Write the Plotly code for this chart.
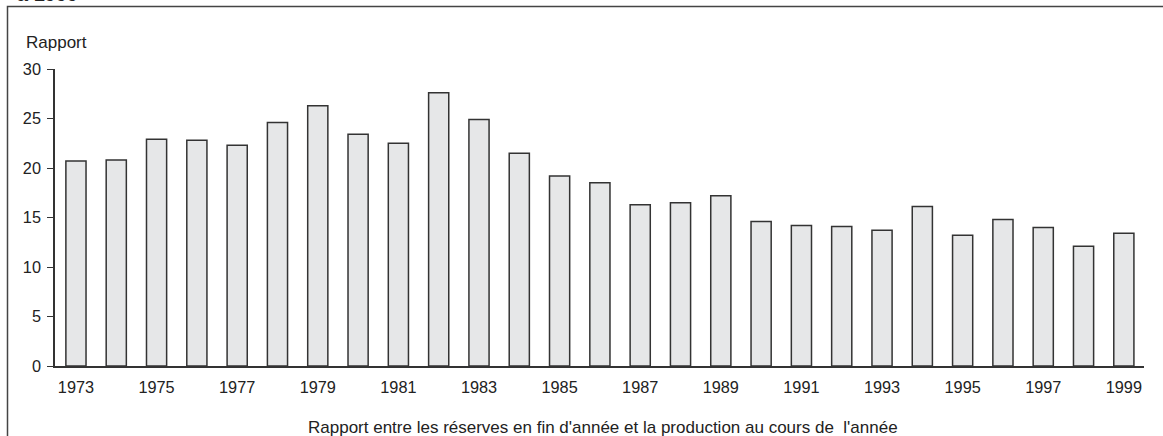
import plotly.graph_objects as go

years = list(range(1973, 2000))
ratio = [20.7, 20.8, 22.9, 22.8, 22.3, 24.6, 26.3, 23.4, 22.5, 27.6,
         24.9, 21.5, 19.2, 18.5, 16.3, 16.5, 17.2, 14.6, 14.2, 14.1,
         13.7, 16.1, 13.2, 14.8, 14.0, 12.1, 13.4]
tick_years = list(range(1973, 2000, 2))
y_ticks = [0, 5, 10, 15, 20, 25, 30]

W, H = 1163, 436
L, R, T, B = 55, 1144, 69, 366
pw, ph = R - L, B - T

def px(x):
    return (x - L) / pw

def py(y):
    return (B - y) / ph

FONT = "Liberation Sans, Arial, sans-serif"
INK = "#333333"

fig = go.Figure(go.Bar(
    x=years, y=ratio, width=0.5,
    marker=dict(color="#e6e7e8", line=dict(color=INK, width=1.5)),
))

fig.update_layout(
    width=W, height=H,
    margin=dict(l=L, r=W - R, t=T, b=H - B),
    paper_bgcolor="white", plot_bgcolor="white",
    showlegend=False,
    font=dict(family=FONT, size=16, color="#222222"),
    xaxis=dict(
        range=[1972.48, 1999.5], tickmode="array", tickvals=tick_years,
        ticktext=[str(v) for v in tick_years],
        showgrid=False, zeroline=False, showline=True, linecolor=INK,
        linewidth=1.5, ticks="", ticklabelstandoff=6,
        tickfont=dict(size=16.3),
    ),
    yaxis=dict(
        range=[0, 30], tickmode="array", tickvals=y_ticks,
        showgrid=False, zeroline=False, showline=True, linecolor=INK,
        linewidth=1.5, ticks="outside", ticklen=6, tickwidth=1.2,
        tickcolor=INK, ticklabelstandoff=3,
        tickfont=dict(size=16.3),
    ),
    shapes=[
        dict(type="path", xref="paper", yref="paper",
             path=f"M {px(7.5)},{py(450)} L {px(7.5)},{py(6.5)} L {px(1170)},{py(6.5)}",
             line=dict(color="#444444", width=1.5)),
    ],
    annotations=[
        dict(text="Rapport", xref="paper", yref="paper", x=px(24), y=py(43),
             xanchor="left", yanchor="middle", showarrow=False,
             font=dict(size=17)),
        dict(text="Rapport entre les réserves en fin d'année et la production au cours de  l'année",
             xref="paper", yref="paper", x=px(603), y=py(427),
             xanchor="center", yanchor="middle", showarrow=False,
             font=dict(size=17)),
        dict(text="<b>à 1999</b>", xref="paper", yref="paper", x=px(15), y=py(6.5),
             xanchor="left", yanchor="bottom", showarrow=False,
             font=dict(size=20)),
    ],
)

fig.write_html(
    "out.html",
    config={"displayModeBar": False},
    post_script="document.body.style.margin='0';document.body.style.overflow='hidden';",
)
